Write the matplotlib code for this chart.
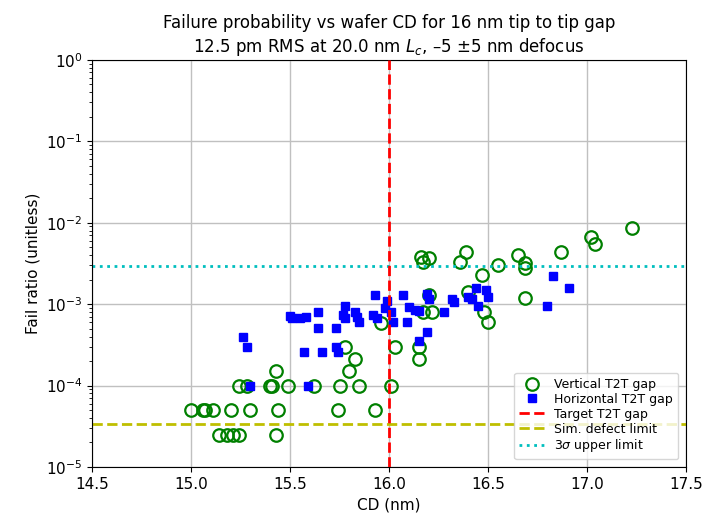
import matplotlib
matplotlib.use("Agg")
import matplotlib.pyplot as plt
from matplotlib.ticker import LogLocator, NullFormatter

# vertical T2T gap (open circles)
vert_cd = [15.14, 15.18, 15.21, 15.24, 15.43,
           15.00, 15.06, 15.07, 15.11, 15.20, 15.30, 15.44, 15.74, 15.93,
           15.24, 15.28, 15.40, 15.41, 15.49, 15.62, 15.75, 15.85, 16.01,
           15.43, 15.78, 15.83, 15.80, 15.96, 16.03, 16.15, 16.15,
           16.16, 16.20, 16.17, 16.39, 16.36, 16.55, 16.47, 16.20, 16.17,
           16.22, 16.40, 16.48, 16.50,
           16.65, 16.69, 16.69, 16.87, 16.69, 17.02, 17.04, 17.23]
vert_fail = [2.5e-5, 2.5e-5, 2.5e-5, 2.5e-5, 2.5e-5,
             5e-5, 5e-5, 5e-5, 5e-5, 5e-5, 5e-5, 5e-5, 5e-5, 5e-5,
             1e-4, 1e-4, 1e-4, 1e-4, 1e-4, 1e-4, 1e-4, 1e-4, 1e-4,
             1.5e-4, 3.0e-4, 2.1e-4, 1.5e-4, 5.9e-4, 3.0e-4, 3.0e-4, 2.1e-4,
             3.8e-3, 3.7e-3, 3.3e-3, 4.4e-3, 3.3e-3, 3.0e-3, 2.3e-3, 1.3e-3, 8.1e-4,
             8.1e-4, 1.4e-3, 8.1e-4, 6.1e-4,
             4.0e-3, 3.2e-3, 2.8e-3, 4.4e-3, 1.2e-3, 6.7e-3, 5.5e-3, 8.7e-3]

# horizontal T2T gap (filled squares)
horz_cd = [15.26, 15.28, 15.30, 15.50, 15.51, 15.55, 15.58, 15.59, 15.57,
           15.64, 15.64, 15.66, 15.73, 15.73, 15.74, 15.78, 15.77, 15.78,
           15.83, 15.84, 15.85, 15.93, 15.92, 15.94, 15.99, 15.98, 16.01,
           16.02, 16.07, 16.09, 16.10, 16.13, 16.15, 16.15, 16.19, 16.19,
           16.20, 16.28, 16.32, 16.33, 16.40, 16.42, 16.44, 16.45, 16.49,
           16.50, 16.80, 16.83, 16.91]
horz_fail = [4.0e-4, 3.0e-4, 1.0e-4, 7.2e-4, 6.8e-4, 6.8e-4, 7.0e-4, 1.0e-4, 2.6e-4,
             8.1e-4, 5.1e-4, 2.6e-4, 5.1e-4, 3.0e-4, 2.6e-4, 9.6e-4, 7.4e-4, 6.8e-4,
             8.1e-4, 7.0e-4, 6.0e-4, 1.31e-3, 7.4e-4, 6.8e-4, 1.1e-3, 9.0e-4, 7.9e-4,
             6.0e-4, 1.31e-3, 6.0e-4, 9.3e-4, 8.5e-4, 8.3e-4, 3.5e-4, 1.34e-3, 4.5e-4,
             1.17e-3, 7.9e-4, 1.17e-3, 1.07e-3, 1.24e-3, 1.17e-3, 1.6e-3, 9.6e-4, 1.5e-3,
             1.24e-3, 9.5e-4, 2.2e-3, 1.6e-3]

TARGET_CD = 16.0
SIM_LIMIT = 3.4e-5
UPPER_3SIGMA = 2.9e-3

plt.rcParams.update({"font.size": 11})

fig = plt.figure(figsize=(7.04, 5.16), dpi=100)
ax = fig.add_axes([0.131, 0.095, 0.843, 0.789])

ax.plot(vert_cd, vert_fail, "o", markersize=9, markerfacecolor="none",
        markeredgecolor="g", markeredgewidth=1.6, label="Vertical T2T gap")
ax.plot(horz_cd, horz_fail, "s", markersize=6, color="b", label="Horizontal T2T gap")
ax.axvline(TARGET_CD, color="r", linestyle="--", linewidth=2, zorder=3,
           label="Target T2T gap")
ax.axhline(SIM_LIMIT, color="y", linestyle="--", linewidth=2, label="Sim. defect limit")
ax.axhline(UPPER_3SIGMA, color="c", linestyle=":", linewidth=2, label=r"3$\sigma$ upper limit")

ax.set_yscale("log")
ax.set_ylim(1e-5, 1)
ax.yaxis.set_minor_locator(LogLocator(base=10, subs=range(2, 10), numticks=20))
ax.yaxis.set_minor_formatter(NullFormatter())
ax.set_xlim(14.5, 17.5)
ax.set_xticks([14.5, 15.0, 15.5, 16.0, 16.5, 17.0, 17.5])
ax.grid(True, which="major", color="#c0c0c0", linewidth=1)
ax.set_xlabel("CD (nm)")
ax.set_ylabel("Fail ratio (unitless)")
ax.set_title("Failure probability vs wafer CD for 16 nm tip to tip gap\n"
             "12.5 pm RMS at 20.0 nm $L_c$, \u20135 \u00b15 nm defocus", fontsize=12)
ax.legend(loc="lower right", fontsize=9, labelspacing=0.15, borderaxespad=0.6)

fig.savefig("out.png", dpi=100)
